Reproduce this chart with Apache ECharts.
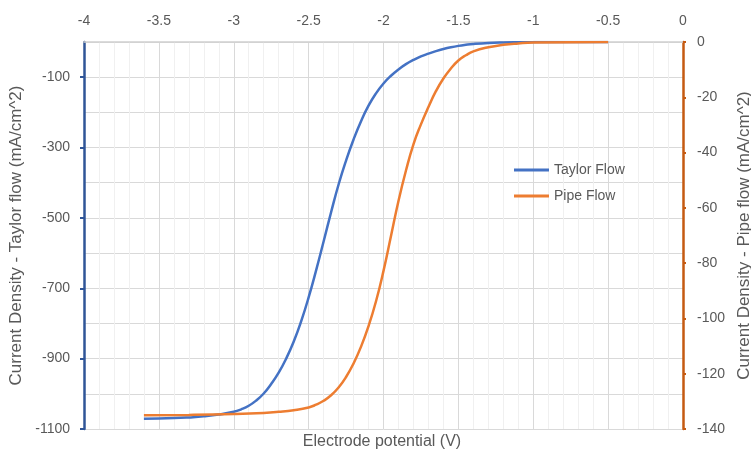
<!DOCTYPE html>
<html>
<head>
<meta charset="utf-8">
<script src="https://cdn.jsdelivr.net/npm/echarts@6/dist/echarts.min.js"></script>
<style>
  html, body { margin: 0; padding: 0; background: #fff; }
  #chart { width: 751px; height: 452px; }
</style>
</head>
<body>
<div id="chart"></div>
<script>
// Electrode potential (V), Taylor flow sweep
const potentialTaylor = [-3.6, -3.4, -3.3, -3.2, -3.1, -3.0, -2.95, -2.9, -2.85, -2.8, -2.75, -2.7, -2.65, -2.6, -2.55, -2.5, -2.45, -2.4, -2.35, -2.3, -2.25, -2.2, -2.15, -2.1, -2.05, -2.0, -1.95, -1.9, -1.85, -1.8, -1.75, -1.7, -1.65, -1.6, -1.55, -1.5, -1.45, -1.4, -1.3, -1.2, -1.1, -1.0, -0.5];
// Current density, Taylor flow (mA/cm^2)
const currentTaylor = [-1071, -1069, -1067, -1064, -1059, -1051, -1044, -1034, -1019, -999, -972, -940, -900, -852, -794, -726, -649, -567, -484, -405, -337, -277, -225, -181, -146, -118, -96, -78, -63, -51, -41, -33, -26, -20, -15, -11, -8, -5.7, -2.8, -1.3, -0.6, -0.2, 0];

// Electrode potential (V), pipe flow sweep
const potentialPipe = [-3.6, -3.3, -3.0, -2.8, -2.7, -2.6, -2.5, -2.45, -2.4, -2.35, -2.3, -2.25, -2.2, -2.15, -2.1, -2.05, -2.0, -1.95, -1.9, -1.85, -1.8, -1.75, -1.7, -1.65, -1.6, -1.55, -1.5, -1.45, -1.4, -1.3, -1.2, -1.1, -1.0, -0.5];
// Current density, pipe flow (mA/cm^2)
const currentPipe = [-135, -134.9, -134.6, -134.2, -133.8, -133.2, -132.2, -131.2, -129.8, -127.8, -125, -121.2, -116.3, -110.2, -102.8, -93.8, -82.8, -70.2, -57.5, -46.5, -37, -29.8, -23.5, -17.8, -13.2, -9.6, -6.7, -4.8, -3.4, -1.9, -1.0, -0.5, -0.2, 0];

const xTicks = { min: -4, max: 0, interval: 0.5 };
const leftTicks = { min: -1100, max: 0, interval: 200 };
const rightTicks = { min: -140, max: 0, interval: 20 };

const FONT = 'Liberation Sans';
const TEXT = '#595959';

const pair = (xs, ys) => xs.map((x, i) => [x, ys[i]]);
const plain = v => String(v);

const chart = echarts.init(document.getElementById('chart'), null, { renderer: 'canvas' });
chart.setOption({
  animation: false,
  backgroundColor: '#fff',
  textStyle: { fontFamily: FONT },
  grid: { left: 84, right: 68, top: 42, bottom: 23, containLabel: false, outerBoundsMode: 'none' },
  legend: {
    orient: 'vertical',
    left: 509,
    top: 158,
    icon: 'rect',
    itemWidth: 35,
    itemHeight: 3,
    itemGap: 12,
    textStyle: { color: TEXT, fontSize: 14, fontFamily: FONT },
    data: ['Taylor Flow', 'Pipe Flow']
  },
  xAxis: {
    type: 'value',
    position: 'top',
    min: xTicks.min, max: xTicks.max, interval: xTicks.interval,
    axisLine: { show: true, onZero: false, lineStyle: { color: '#D0D0D0', width: 1.5 } },
    axisTick: { show: false },
    minorTick: { show: false, splitNumber: 5 },
    axisLabel: { color: TEXT, fontSize: 14, fontFamily: FONT, margin: 14, formatter: plain },
    splitLine: { show: true, lineStyle: { color: '#D9D9D9', width: 1 } },
    minorSplitLine: { show: true, lineStyle: { color: '#F0F0F0', width: 1 } }
  },
  yAxis: [
    {
      type: 'value',
      position: 'left',
      min: leftTicks.min, max: leftTicks.max, interval: leftTicks.interval,
      name: 'Current Density - Taylor flow (mA/cm^2)',
      nameLocation: 'middle',
      nameRotate: 90,
      nameGap: 59,
      nameTextStyle: { color: TEXT, fontSize: 17, fontFamily: FONT },
      axisLine: { show: true, onZero: false, lineStyle: { color: '#2F5597', width: 2.5 } },
      axisTick: { show: true, inside: false, length: 4, lineStyle: { color: '#2F5597', width: 2 } },
      axisLabel: { color: TEXT, fontSize: 14, fontFamily: FONT, margin: 14, showMaxLabel: false, formatter: plain },
      splitLine: { show: false }
    },
    {
      type: 'value',
      position: 'right',
      min: rightTicks.min, max: rightTicks.max, interval: rightTicks.interval,
      name: 'Current Density - Pipe flow (mA/cm^2)',
      nameLocation: 'middle',
      nameRotate: 90,
      nameGap: 48,
      nameTextStyle: { color: TEXT, fontSize: 17, fontFamily: FONT },
      axisLine: { show: true, onZero: false, lineStyle: { color: '#C55A11', width: 2.5 } },
      axisTick: { show: true, inside: false, length: 3, lineStyle: { color: '#C55A11', width: 2 } },
      axisLabel: { color: TEXT, fontSize: 14, fontFamily: FONT, margin: 14, formatter: plain },
      splitLine: { show: false }
    },
    {
      // horizontal grid every 100 mA/cm^2 on the Taylor scale
      type: 'value',
      position: 'left',
      min: leftTicks.min, max: leftTicks.max, interval: 100,
      axisLine: { show: false },
      axisTick: { show: false },
      axisLabel: { show: false },
      splitLine: { show: true, lineStyle: { color: '#D9D9D9', width: 1 } },
      z: 0
    }
  ],
  series: [
    {
      name: 'Taylor Flow',
      type: 'line',
      yAxisIndex: 0,
      data: pair(potentialTaylor, currentTaylor),
      smooth: 0.5,
      showSymbol: false,
      symbol: 'none',
      lineStyle: { color: '#4472C4', width: 2.5 },
      itemStyle: { color: '#4472C4' }
    },
    {
      name: 'Pipe Flow',
      type: 'line',
      yAxisIndex: 1,
      data: pair(potentialPipe, currentPipe),
      smooth: 0.5,
      showSymbol: false,
      symbol: 'none',
      lineStyle: { color: '#ED7D31', width: 2.5 },
      itemStyle: { color: '#ED7D31' }
    }
  ],
  graphic: [
    {
      type: 'text',
      x: 382,
      y: 442,
      style: {
        text: 'Electrode potential (V)',
        fill: TEXT,
        font: '16px "' + FONT + '"',
        textAlign: 'center',
        textVerticalAlign: 'middle'
      }
    }
  ]
});
</script>
</body>
</html>
